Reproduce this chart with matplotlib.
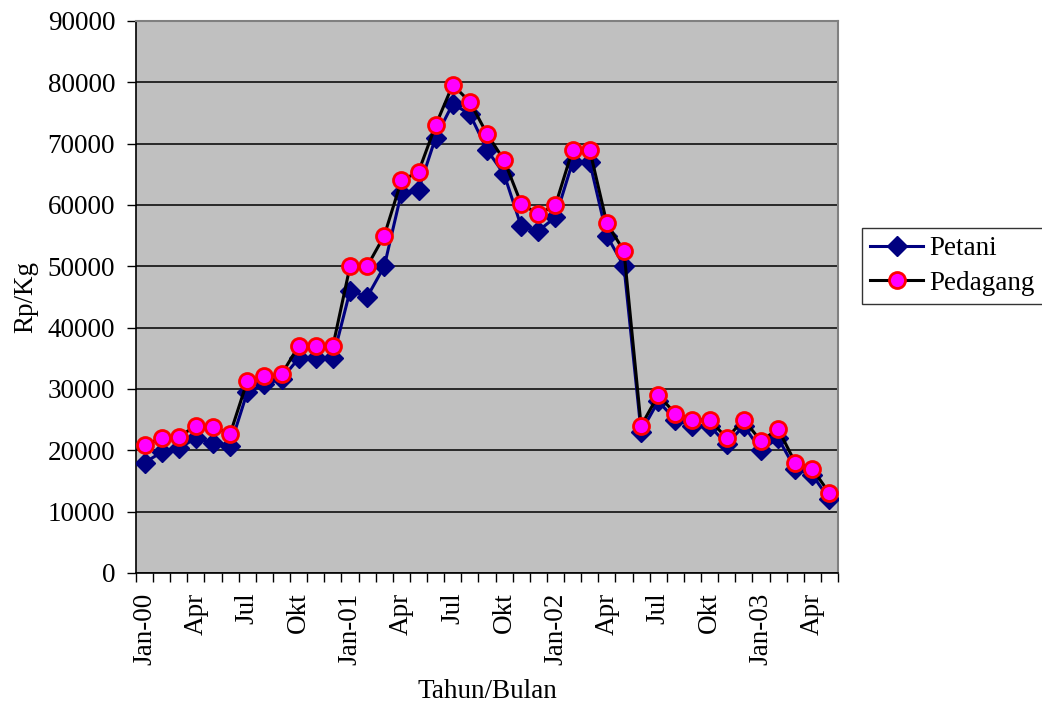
import matplotlib
matplotlib.use("Agg")
import matplotlib.pyplot as plt
import numpy as np

# Monthly prices Jan 2000 - May 2003 (Rp/Kg)
months = ["Jan-00", "Feb", "Mar", "Apr", "Mei", "Jun", "Jul", "Agu", "Sep", "Okt", "Nov", "Des",
          "Jan-01", "Feb", "Mar", "Apr", "Mei", "Jun", "Jul", "Agu", "Sep", "Okt", "Nov", "Des",
          "Jan-02", "Feb", "Mar", "Apr", "Mei", "Jun", "Jul", "Agu", "Sep", "Okt", "Nov", "Des",
          "Jan-03", "Feb", "Mar", "Apr", "Mei"]

petani = [18000, 19700, 20300, 22000, 21200, 20700, 29500, 30800, 31600, 35000, 35000, 35000,
          46000, 45000, 50000, 62000, 62500, 71000, 76500, 74800, 69000, 65000, 56500, 55800,
          58000, 67000, 67000, 55000, 50000, 23000, 28000, 25000, 24000, 24000, 21000, 24000,
          20000, 22000, 17000, 16000, 12000]

pedagang = [20800, 22000, 22200, 24000, 23800, 22700, 31300, 32100, 32400, 37000, 37000, 37000,
            50000, 50000, 55000, 64000, 65400, 73000, 79600, 76800, 71600, 67300, 60200, 58500,
            60000, 69000, 69000, 57000, 52500, 24000, 29000, 26000, 25000, 25000, 22000, 25000,
            21500, 23500, 18000, 17000, 13000]

tick_labels = ["Jan-00", "Apr", "Jul", "Okt", "Jan-01", "Apr", "Jul", "Okt",
               "Jan-02", "Apr", "Jul", "Okt", "Jan-03", "Apr"]

plt.rcParams["font.family"] = ["Liberation Serif", "DejaVu Serif"]
FS = 19.5

fig = plt.figure(figsize=(10.42, 7.02), dpi=100)
ax = fig.add_axes([136 / 1042, 1 - 573 / 702, (838 - 136) / 1042, (573 - 21) / 702])
ax.set_facecolor("#C0C0C0")

x = np.arange(len(months))
ax.plot(x, petani, color="#000080", lw=2.2, marker="D", ms=9.8,
        mfc="#000080", mec="#000080", label="Petani", zorder=3)
ax.plot(x, pedagang, color="black", lw=2.2, marker="o", ms=11.5,
        mfc="#FF00FF", mec="#FF0000", mew=2, label="Pedagang", zorder=4)

ax.set_xlim(-0.5, len(months) - 0.5)
ax.set_ylim(0, 90000)
ax.set_yticks(np.arange(0, 90001, 10000))
ax.yaxis.grid(True, color="black", lw=1.1)
ax.set_axisbelow(True)

# category axis: ticks between months, labels every third month
ax.set_xticks(np.arange(-0.5, len(months), 1.0), minor=False)
ax.set_xticklabels([])
ax.set_xticks(np.arange(0, len(months), 3), minor=True)
ax.set_xticklabels(tick_labels, minor=True, rotation=90, fontsize=FS)
ax.tick_params(axis="x", which="major", direction="out", length=6.5, width=1, color="black")
ax.tick_params(axis="x", which="minor", length=0, pad=14)
ax.tick_params(axis="y", direction="out", length=6.5, width=1, labelsize=FS, pad=8.5)

for s in ["top", "right"]:
    ax.spines[s].set_color("#808080")
    ax.spines[s].set_linewidth(1.5)
for s in ["left", "bottom"]:
    ax.spines[s].set_color("black")
    ax.spines[s].set_linewidth(1.2)

ax.set_ylabel("Rp/Kg", fontsize=FS, labelpad=7)
ax.set_xlabel("Tahun/Bulan", fontsize=FS, labelpad=10)

leg = ax.legend(loc="center left", bbox_to_anchor=(862 / 1042, 1 - 266 / 702),
                bbox_transform=fig.transFigure, fontsize=FS, frameon=True,
                fancybox=False, edgecolor="black", borderpad=0.3,
                handlelength=1.95, handletextpad=0.25, labelspacing=0.35, borderaxespad=0)
leg.get_frame().set_linewidth(1.0)

fig.savefig("out.png", dpi=100)
